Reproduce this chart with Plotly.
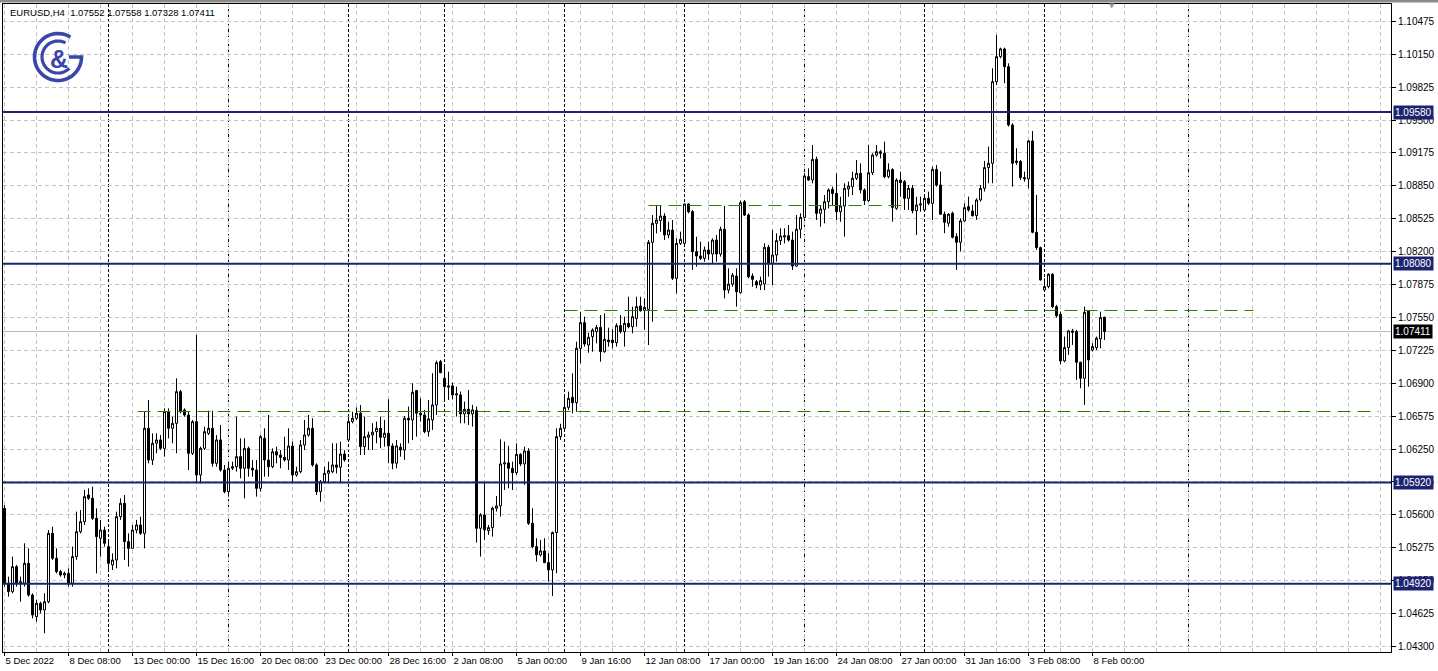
import math
import plotly.graph_objects as go

# ---------------- data ----------------
opens = [
    1.05664, 1.04924, 1.04841, 1.05088, 1.04924, 1.04924, 1.05121, 1.04808, 1.04594, 1.04726,
    1.04660, 1.04742, 1.05417, 1.05171, 1.05039, 1.05006, 1.05022, 1.04924, 1.05187, 1.05434,
    1.05533, 1.05796, 1.05763, 1.05566, 1.05368, 1.05450, 1.05286, 1.05105, 1.05154, 1.05582,
    1.05714, 1.05335, 1.05269, 1.05450, 1.05500, 1.05417, 1.06455, 1.06142, 1.06307, 1.06340,
    1.06257, 1.06619, 1.06455, 1.06504, 1.06817, 1.06636, 1.06586, 1.06208, 1.06521, 1.05994,
    1.06257, 1.06405, 1.06455, 1.06109, 1.06340, 1.06043, 1.05829, 1.06060, 1.06076, 1.06175,
    1.06060, 1.06257, 1.06060, 1.06043, 1.05862, 1.06356, 1.06142, 1.06076, 1.06224, 1.06191,
    1.06168, 1.06142, 1.06280, 1.05994, 1.06027, 1.06290, 1.06389, 1.06455, 1.06093, 1.05829,
    1.05928, 1.06010, 1.06027, 1.06093, 1.06070, 1.06201, 1.06340, 1.06521, 1.06554, 1.06603,
    1.06274, 1.06366, 1.06389, 1.06422, 1.06455, 1.06366, 1.06406, 1.06281, 1.06110, 1.06268,
    1.06241, 1.06554, 1.06538, 1.06828, 1.06604, 1.06587, 1.06422, 1.06538, 1.06686, 1.07114,
    1.06950, 1.06861, 1.06874, 1.06785, 1.06785, 1.06597, 1.06643, 1.06597, 1.06630, 1.05467,
    1.05599, 1.05444, 1.05474, 1.05665, 1.05688, 1.06103, 1.06113, 1.06060, 1.06017, 1.06198,
    1.06103, 1.06231, 1.05517, 1.05286, 1.05204, 1.05244, 1.05128, 1.05056, 1.05425, 1.06373,
    1.06455, 1.06662, 1.06761, 1.06708, 1.07245, 1.07499, 1.07278, 1.07361, 1.07410, 1.07452,
    1.07212, 1.07327, 1.07327, 1.07301, 1.07469, 1.07410, 1.07492, 1.07459, 1.07541, 1.07663,
    1.07620, 1.07630, 1.08292, 1.08480, 1.08508, 1.08552, 1.08365, 1.08414, 1.07937, 1.08282,
    1.08282, 1.08671, 1.08595, 1.08200, 1.08157, 1.08134, 1.08217, 1.08177, 1.08315, 1.08177,
    1.08421, 1.07821, 1.07880, 1.07959, 1.07795, 1.08694, 1.08562, 1.07960, 1.07904, 1.07871,
    1.07881, 1.08243, 1.08085, 1.08167, 1.08309, 1.08345, 1.08358, 1.08315, 1.08058, 1.08421,
    1.08539, 1.08941, 1.08908, 1.09112, 1.08579, 1.08618, 1.08694, 1.08816, 1.08776, 1.08595,
    1.08651, 1.08819, 1.08842, 1.08925, 1.08974, 1.08810, 1.08704, 1.08980, 1.09155, 1.09188,
    1.09172, 1.08941, 1.09013, 1.08628, 1.08908, 1.08892, 1.08727, 1.08826, 1.08605, 1.08661,
    1.08612, 1.08727, 1.08678, 1.09013, 1.08859, 1.08570, 1.08481, 1.08580, 1.08349, 1.08293,
    1.08504, 1.08645, 1.08602, 1.08556, 1.08711, 1.08826, 1.09031, 1.09073, 1.09880, 1.10127,
    1.10203, 1.10028, 1.09452, 1.09096, 1.09090, 1.08932, 1.08919, 1.09294, 1.08392, 1.08240,
    1.07822, 1.07855, 1.07977, 1.07657, 1.07582, 1.07121, 1.07252, 1.07417, 1.07410, 1.07107,
    1.06949, 1.07614, 1.07229, 1.07252, 1.07338, 1.07552,
]
highs = [
    1.05697, 1.04989, 1.05187, 1.05105, 1.04990, 1.05319, 1.05269, 1.04825, 1.04759, 1.04742,
    1.04825, 1.05450, 1.05483, 1.05269, 1.05055, 1.05039, 1.05072, 1.05286, 1.05632, 1.05648,
    1.05846, 1.05862, 1.05878, 1.05664, 1.05550, 1.05483, 1.05352, 1.05220, 1.05632, 1.05763,
    1.05796, 1.05417, 1.05500, 1.05550, 1.05582, 1.06619, 1.06735, 1.06405, 1.06405, 1.06389,
    1.06652, 1.06652, 1.06570, 1.06949, 1.06834, 1.06652, 1.06619, 1.06537, 1.07377, 1.06274,
    1.06471, 1.06629, 1.06629, 1.06389, 1.06488, 1.06093, 1.06126, 1.06126, 1.06570, 1.06356,
    1.06356, 1.06274, 1.06142, 1.06142, 1.06389, 1.06455, 1.06587, 1.06257, 1.06274, 1.06240,
    1.06372, 1.06455, 1.06323, 1.06076, 1.06340, 1.06537, 1.06587, 1.06554, 1.06109, 1.05944,
    1.06076, 1.06126, 1.06307, 1.06307, 1.06323, 1.06240, 1.06570, 1.06619, 1.06662, 1.06685,
    1.06571, 1.06422, 1.06505, 1.06521, 1.06571, 1.06538, 1.06742, 1.06307, 1.06340, 1.06307,
    1.06577, 1.06669, 1.06900, 1.06834, 1.06752, 1.06637, 1.06735, 1.06999, 1.07124, 1.07130,
    1.07065, 1.07015, 1.06907, 1.06867, 1.06818, 1.06719, 1.06834, 1.06686, 1.06669, 1.05616,
    1.05928, 1.05500, 1.05682, 1.05787, 1.06347, 1.06324, 1.06281, 1.06126, 1.06307, 1.06208,
    1.06274, 1.06258, 1.05665, 1.05369, 1.05352, 1.05369, 1.05221, 1.05435, 1.06455, 1.06500,
    1.06768, 1.06817, 1.06998, 1.07311, 1.07607, 1.07558, 1.07400, 1.07443, 1.07476, 1.07574,
    1.07590, 1.07449, 1.07433, 1.07492, 1.07574, 1.07558, 1.07755, 1.07657, 1.07755, 1.07755,
    1.07739, 1.08315, 1.08562, 1.08661, 1.08651, 1.08579, 1.08496, 1.08513, 1.08332, 1.08398,
    1.08677, 1.08677, 1.08612, 1.08348, 1.08299, 1.08250, 1.08299, 1.08332, 1.08365, 1.08447,
    1.08651, 1.08035, 1.07990, 1.08035, 1.08704, 1.08711, 1.08579, 1.07986, 1.07920, 1.07953,
    1.08282, 1.08266, 1.08414, 1.08381, 1.08431, 1.08431, 1.08464, 1.08398, 1.08562, 1.08579,
    1.08974, 1.09023, 1.09254, 1.09139, 1.08661, 1.08760, 1.08826, 1.08842, 1.08974, 1.08743,
    1.08875, 1.08892, 1.08990, 1.09106, 1.09073, 1.08826, 1.09254, 1.09172, 1.09254, 1.09204,
    1.09287, 1.09073, 1.09023, 1.08925, 1.08990, 1.08908, 1.08859, 1.08859, 1.08743, 1.08743,
    1.08760, 1.08793, 1.09040, 1.09056, 1.08991, 1.08596, 1.08580, 1.08596, 1.08382, 1.08530,
    1.08678, 1.08744, 1.08662, 1.08728, 1.08859, 1.09097, 1.09238, 1.10012, 1.10341, 1.10216,
    1.10216, 1.10061, 1.09469, 1.09222, 1.09106, 1.08991, 1.09304, 1.09393, 1.08761, 1.08250,
    1.07937, 1.07987, 1.07987, 1.07674, 1.07608, 1.07361, 1.07427, 1.07437, 1.07427, 1.07114,
    1.07657, 1.07624, 1.07295, 1.07361, 1.07608, 1.07558,
]
lows = [
    1.04891, 1.04792, 1.04825, 1.04891, 1.04742, 1.04891, 1.04792, 1.04578, 1.04545, 1.04627,
    1.04430, 1.04726, 1.05154, 1.05022, 1.04989, 1.04973, 1.04891, 1.04891, 1.05154, 1.05417,
    1.05500, 1.05747, 1.05550, 1.05022, 1.05187, 1.05286, 1.05055, 1.05055, 1.05072, 1.05550,
    1.05154, 1.05088, 1.05269, 1.05417, 1.05401, 1.05269, 1.06109, 1.06093, 1.06208, 1.06240,
    1.06175, 1.06356, 1.06307, 1.06208, 1.06603, 1.06570, 1.06043, 1.06191, 1.05911, 1.05911,
    1.06240, 1.06389, 1.06076, 1.06076, 1.06027, 1.05813, 1.05780, 1.06043, 1.06027, 1.05961,
    1.05763, 1.05977, 1.05977, 1.05780, 1.05829, 1.05977, 1.05977, 1.06060, 1.06109, 1.06060,
    1.06126, 1.06043, 1.05911, 1.05977, 1.06010, 1.06240, 1.06372, 1.06076, 1.05796, 1.05730,
    1.05911, 1.05911, 1.06010, 1.06010, 1.05911, 1.06126, 1.06323, 1.06504, 1.06537, 1.06191,
    1.06192, 1.06241, 1.06241, 1.06307, 1.06258, 1.06274, 1.06110, 1.06050, 1.06060, 1.06175,
    1.06143, 1.06307, 1.06340, 1.06373, 1.06521, 1.06406, 1.06373, 1.06439, 1.06587, 1.06999,
    1.06735, 1.06735, 1.06742, 1.06571, 1.06505, 1.06505, 1.06488, 1.06472, 1.05326, 1.05188,
    1.05352, 1.05402, 1.05385, 1.05632, 1.05583, 1.05846, 1.05863, 1.05846, 1.05994, 1.06083,
    1.05896, 1.05500, 1.05270, 1.05138, 1.05188, 1.05122, 1.04941, 1.04799, 1.05023, 1.06340,
    1.06438, 1.06636, 1.06603, 1.06619, 1.07097, 1.07262, 1.07202, 1.07212, 1.07294, 1.07113,
    1.07202, 1.07262, 1.07245, 1.07262, 1.07393, 1.07262, 1.07443, 1.07393, 1.07459, 1.07607,
    1.07426, 1.07278, 1.07508, 1.08381, 1.08398, 1.08315, 1.08332, 1.07920, 1.07788, 1.08266,
    1.08266, 1.08579, 1.08019, 1.08052, 1.08118, 1.08101, 1.08118, 1.08085, 1.08101, 1.08151,
    1.07739, 1.07788, 1.07854, 1.07657, 1.07788, 1.08552, 1.07937, 1.07854, 1.07838, 1.07821,
    1.07821, 1.07953, 1.07871, 1.08101, 1.08266, 1.08282, 1.08299, 1.08019, 1.08052, 1.08332,
    1.08529, 1.08901, 1.08875, 1.08513, 1.08447, 1.08480, 1.08628, 1.08661, 1.08513, 1.08496,
    1.08348, 1.08743, 1.08760, 1.08908, 1.08776, 1.08661, 1.08694, 1.08957, 1.09139, 1.09122,
    1.08925, 1.08925, 1.08496, 1.08612, 1.08743, 1.08612, 1.08612, 1.08579, 1.08365, 1.08595,
    1.08595, 1.08661, 1.08513, 1.08842, 1.08563, 1.08382, 1.08448, 1.08332, 1.08020, 1.08201,
    1.08497, 1.08596, 1.08547, 1.08514, 1.08695, 1.08794, 1.08876, 1.08876, 1.09847, 1.10111,
    1.09864, 1.09436, 1.08843, 1.09057, 1.08909, 1.08892, 1.08826, 1.08382, 1.08217, 1.07914,
    1.07806, 1.07838, 1.07641, 1.07549, 1.07088, 1.07107, 1.07180, 1.07279, 1.06933, 1.06851,
    1.06686, 1.06867, 1.07213, 1.07229, 1.07246, 1.07328,
]
closes = [
    1.04924, 1.04841, 1.05088, 1.04924, 1.04940, 1.05121, 1.04808, 1.04611, 1.04726, 1.04660,
    1.04742, 1.05417, 1.05171, 1.05039, 1.05006, 1.05022, 1.04924, 1.05187, 1.05434, 1.05533,
    1.05780, 1.05763, 1.05566, 1.05385, 1.05450, 1.05319, 1.05121, 1.05154, 1.05582, 1.05714,
    1.05335, 1.05269, 1.05450, 1.05500, 1.05417, 1.06455, 1.06142, 1.06307, 1.06340, 1.06257,
    1.06619, 1.06455, 1.06504, 1.06817, 1.06619, 1.06586, 1.06208, 1.06521, 1.05994, 1.06257,
    1.06422, 1.06455, 1.06109, 1.06340, 1.06043, 1.05829, 1.06060, 1.06076, 1.06175, 1.06060,
    1.06257, 1.06060, 1.06043, 1.05862, 1.06372, 1.06142, 1.06076, 1.06224, 1.06191, 1.06168,
    1.06142, 1.06280, 1.05994, 1.06027, 1.06290, 1.06389, 1.06455, 1.06093, 1.05829, 1.05928,
    1.06010, 1.06037, 1.06093, 1.06070, 1.06201, 1.06142, 1.06521, 1.06554, 1.06603, 1.06274,
    1.06373, 1.06389, 1.06416, 1.06455, 1.06366, 1.06406, 1.06281, 1.06110, 1.06281, 1.06241,
    1.06554, 1.06538, 1.06811, 1.06604, 1.06587, 1.06422, 1.06548, 1.06686, 1.07104, 1.07005,
    1.06867, 1.06874, 1.06785, 1.06795, 1.06597, 1.06643, 1.06597, 1.06637, 1.05467, 1.05599,
    1.05451, 1.05474, 1.05665, 1.05688, 1.06103, 1.06113, 1.06060, 1.06017, 1.06198, 1.06103,
    1.06231, 1.05517, 1.05286, 1.05204, 1.05244, 1.05128, 1.05056, 1.05425, 1.06373, 1.06455,
    1.06662, 1.06751, 1.06708, 1.07245, 1.07499, 1.07288, 1.07354, 1.07426, 1.07452, 1.07212,
    1.07334, 1.07311, 1.07301, 1.07469, 1.07410, 1.07492, 1.07459, 1.07558, 1.07657, 1.07617,
    1.07650, 1.08292, 1.08480, 1.08513, 1.08552, 1.08365, 1.08414, 1.07937, 1.08282, 1.08322,
    1.08671, 1.08595, 1.08200, 1.08157, 1.08134, 1.08217, 1.08177, 1.08315, 1.08177, 1.08421,
    1.07821, 1.07880, 1.07969, 1.07805, 1.08684, 1.08562, 1.07953, 1.07927, 1.07871, 1.07914,
    1.08243, 1.08085, 1.08167, 1.08309, 1.08355, 1.08358, 1.08315, 1.08058, 1.08421, 1.08539,
    1.08948, 1.08908, 1.09112, 1.08579, 1.08622, 1.08694, 1.08810, 1.08776, 1.08595, 1.08651,
    1.08826, 1.08849, 1.08925, 1.08974, 1.08810, 1.08704, 1.08980, 1.09155, 1.09188, 1.09172,
    1.08941, 1.09007, 1.08638, 1.08908, 1.08882, 1.08727, 1.08826, 1.08605, 1.08661, 1.08671,
    1.08727, 1.08678, 1.09013, 1.08859, 1.08570, 1.08491, 1.08570, 1.08342, 1.08293, 1.08504,
    1.08635, 1.08612, 1.08556, 1.08711, 1.08826, 1.09031, 1.09073, 1.09880, 1.10127, 1.10203,
    1.10028, 1.09452, 1.09073, 1.09083, 1.08932, 1.08919, 1.09294, 1.08392, 1.08240, 1.07921,
    1.07855, 1.07977, 1.07657, 1.07568, 1.07121, 1.07252, 1.07417, 1.07404, 1.07107, 1.06949,
    1.07601, 1.07131, 1.07262, 1.07345, 1.07549, 1.07411,
]

tick_labels = [
    "5 Dec 2022", "8 Dec 08:00", "13 Dec 00:00", "15 Dec 16:00", "20 Dec 08:00",
    "23 Dec 00:00", "28 Dec 16:00", "2 Jan 08:00", "5 Jan 00:00", "9 Jan 16:00",
    "12 Jan 08:00", "17 Jan 00:00", "19 Jan 16:00", "24 Jan 08:00", "27 Jan 00:00",
    "31 Jan 16:00", "3 Feb 08:00", "8 Feb 00:00",
]
bars_per_label = 16
week_separators = [26, 56, 86, 110, 140, 170, 200, 230, 260, 296]

navy_levels = [1.09580, 1.08080, 1.05920, 1.04920]
green_levels = [1.08656, 1.07619, 1.06621]
green_from = [161, 140, 33.25]
green_to = [224.75, 312.25, 343.5]
last_price = 1.07411
header_text = "EURUSD,H4  1.07552 1.07558 1.07328 1.07411"
price_tick0 = 1.04300
price_step = 0.00325

# ---------------- styling ----------------
W, H = 1438, 671
ML, MR, MT, MB = 3, 47, 4, 19
PW, PH = W - ML - MR, H - MT - MB
X_RANGE = [-0.375, 346.625]
Y_RANGE = [1.04245, 1.10647]
FONT = "Liberation Sans"
NAVY = "#1c2472"
GREEN = "#2f7d00"
GRID = "#c4c4c4"
LOGO = "#3a46a8"

xs = list(range(len(opens)))

fig = go.Figure()
fig.add_trace(go.Candlestick(
    x=xs, open=opens, high=highs, low=lows, close=closes,
    increasing=dict(line=dict(color="black", width=1), fillcolor="white"),
    decreasing=dict(line=dict(color="black", width=1), fillcolor="black"),
    whiskerwidth=0, showlegend=False, hoverinfo="skip",
))

shapes = []
# week separators
for s in week_separators:
    shapes.append(dict(type="line", xref="x", yref="paper", x0=s, x1=s, y0=0, y1=1,
                       line=dict(color="black", width=1, dash="3px,2px"), layer="below"))
# last price line
shapes.append(dict(type="line", xref="paper", yref="y", x0=0, x1=1, y0=last_price, y1=last_price,
                   line=dict(color="#b8b8b8", width=1), layer="below"))
# green dashed levels
for lv, a, b in zip(green_levels, green_from, green_to):
    shapes.append(dict(type="line", xref="x", yref="y", x0=a, x1=b, y0=lv, y1=lv,
                       line=dict(color=GREEN, width=1, dash="13px,7px")))
# navy levels
for lv in navy_levels:
    shapes.append(dict(type="line", xref="paper", yref="y", x0=0, x1=1, y0=lv, y1=lv,
                       line=dict(color=NAVY, width=2)))
# window frame strip at the very top
shapes.append(dict(type="rect", xref="paper", yref="paper",
                   x0=-ML / PW, x1=1 + MR / PW, y0=1 + 1.5 / PH, y1=1 + MT / PH,
                   line=dict(width=0), fillcolor="#8a8a8a"))


# logo (two open rings forming a "G" and a "C")
def ring(r, a0, a1, n=48):
    pts = []
    for k in range(n + 1):
        a = math.radians(a0 + (a1 - a0) * k / n)
        pts.append((r * math.cos(a), r * math.sin(a)))
    return pts


def to_path(pts):
    return "M " + " L ".join(f"{x:.2f},{y:.2f}" for x, y in pts)


cx_px, cy_px = 58, 57
ax = (cx_px - ML) / PW
ay = 1 - (cy_px - MT) / PH
outer = ring(23.5, 58, 360) + [(11, 0)]
inner = ring(16, 62, 315)
for pts, w in ((outer, 3.6), (inner, 3.2)):
    shapes.append(dict(type="path", xref="paper", yref="paper", xsizemode="pixel", ysizemode="pixel",
                       xanchor=ax, yanchor=ay, path=to_path(pts), line=dict(color=LOGO, width=w)))

annotations = [
    dict(x=(8 - ML) / PW, y=1 - (13 - MT) / PH, xref="paper", yref="paper", xanchor="left",
         yanchor="middle", text=header_text, showarrow=False,
         font=dict(family=FONT, size=9.5, color="black")),
    dict(x=(59 - ML) / PW, y=1 - (59 - MT) / PH, xref="paper", yref="paper", xanchor="center",
         yanchor="middle", text="<b>&amp;</b>", showarrow=False,
         font=dict(family="Liberation Sans", size=25, color=LOGO)),
    dict(x=(1112 - ML) / PW, y=1 - (6 - MT) / PH, xref="paper", yref="paper", xanchor="center",
         yanchor="middle", text="▼", showarrow=False, font=dict(family="DejaVu Sans", size=7, color="#9a9a9a")),
]
for lv in navy_levels:
    annotations.append(dict(x=1, xref="paper", xanchor="left", xshift=2, y=lv, yref="y",
                            yanchor="middle", text=f"{lv:.5f}", showarrow=False, bgcolor=NAVY,
                            borderpad=1, font=dict(family=FONT, size=10, color="white")))
annotations.append(dict(x=1, xref="paper", xanchor="left", xshift=2, y=last_price, yref="y",
                        yanchor="middle", text=f"{last_price:.5f}", showarrow=False, bgcolor="black",
                        borderpad=1, font=dict(family=FONT, size=10, color="white")))

tickvals = [k * bars_per_label for k in range(len(tick_labels))]

fig.update_layout(
    width=W, height=H,
    margin=dict(l=ML, r=MR, t=MT, b=MB, pad=0, autoexpand=False),
    paper_bgcolor="white", plot_bgcolor="white",
    shapes=shapes, annotations=annotations,
    showlegend=False,
    boxgap=0.3, boxgroupgap=2 / 7,
    xaxis=dict(
        range=X_RANGE, type="linear", rangeslider=dict(visible=False), automargin=False,
        tickmode="array", tickvals=tickvals, ticktext=tick_labels, tickangle=0,
        ticklabelposition="outside right", ticks="outside", ticklen=3, tickcolor="black",
        tickfont=dict(family=FONT, size=9.5, color="black"),
        showgrid=True, gridcolor=GRID, griddash="4px,3px", gridwidth=1,
        minor=dict(tickmode="linear", tick0=0, dtick=8, showgrid=True, gridcolor=GRID,
                   griddash="4px,3px", ticks=""),
        showline=True, linecolor="black", linewidth=1, mirror=True, zeroline=False,
        fixedrange=True,
    ),
    yaxis=dict(
        range=Y_RANGE, side="right", tickmode="linear", tick0=price_tick0, dtick=price_step,
        tickformat=".5f", ticks="outside", ticklen=4, tickcolor="black", automargin=False,
        tickfont=dict(family=FONT, size=10, color="black"),
        showgrid=True, gridcolor=GRID, griddash="4px,3px", gridwidth=1,
        showline=True, linecolor="black", linewidth=1, mirror=True, zeroline=False,
        fixedrange=True,
    ),
)

fig.write_html("out.html", config={"displayModeBar": False},
               post_script="document.body.style.margin='0';")
